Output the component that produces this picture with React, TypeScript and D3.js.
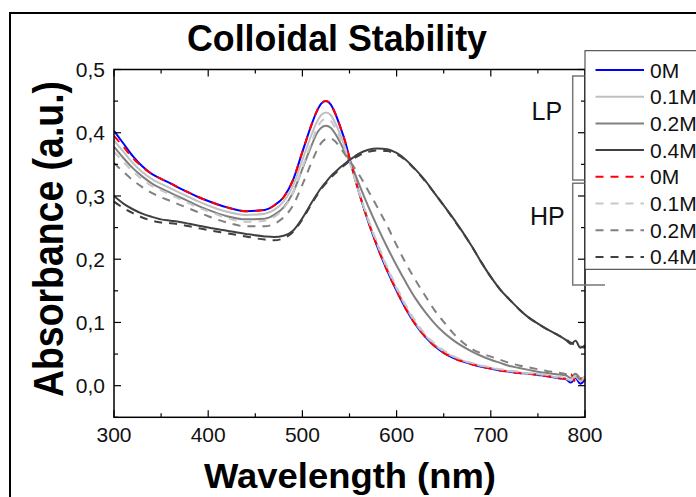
import React from "react";
import * as d3 from "d3";

const wavelengths = [300,310,320,330,340,350,360,370,380,390,400,420,440,460,470,480,490,500,510,515,520,525,530,535,540,545,550,555,560,570,580,590,600,610,620,630,640,650,660,680,690,700,710,720,730,740,750,760,770,780,785,790,795,800];

const lp0M = [0.403,0.383,0.363,0.347,0.335,0.327,0.320,0.312,0.305,0.298,0.292,0.282,0.276,0.278,0.285,0.298,0.325,0.370,0.414,0.433,0.446,0.450,0.445,0.430,0.410,0.388,0.360,0.332,0.306,0.259,0.218,0.182,0.150,0.121,0.097,0.078,0.063,0.052,0.044,0.034,0.030,0.027,0.024,0.022,0.020,0.019,0.017,0.015,0.012,0.010,0.005,0.012,0.003,0.010];
const lp01M = [0.388,0.370,0.352,0.338,0.327,0.319,0.312,0.305,0.298,0.291,0.285,0.275,0.270,0.272,0.278,0.291,0.316,0.357,0.398,0.416,0.428,0.432,0.428,0.415,0.398,0.378,0.356,0.331,0.306,0.261,0.221,0.185,0.153,0.124,0.099,0.080,0.065,0.054,0.046,0.035,0.031,0.028,0.025,0.023,0.021,0.019,0.018,0.016,0.013,0.011,0.008,0.014,0.007,0.012];
const lp02M = [0.378,0.360,0.344,0.331,0.320,0.312,0.305,0.298,0.291,0.284,0.278,0.268,0.263,0.264,0.270,0.282,0.305,0.343,0.381,0.398,0.408,0.411,0.408,0.398,0.385,0.370,0.355,0.338,0.319,0.283,0.250,0.219,0.190,0.163,0.138,0.117,0.099,0.084,0.072,0.054,0.047,0.041,0.036,0.031,0.028,0.025,0.022,0.020,0.018,0.016,0.012,0.017,0.010,0.014];
const lp04M = [0.300,0.288,0.279,0.272,0.267,0.263,0.261,0.259,0.256,0.253,0.250,0.245,0.240,0.236,0.235,0.237,0.245,0.265,0.290,0.302,0.313,0.322,0.331,0.338,0.345,0.351,0.357,0.362,0.367,0.373,0.375,0.374,0.368,0.357,0.342,0.325,0.305,0.285,0.265,0.220,0.195,0.172,0.152,0.136,0.121,0.108,0.098,0.089,0.081,0.072,0.066,0.071,0.060,0.064];
const hp0M = [0.395,0.378,0.360,0.346,0.335,0.327,0.320,0.312,0.305,0.298,0.292,0.282,0.276,0.278,0.285,0.298,0.325,0.370,0.414,0.433,0.446,0.450,0.445,0.430,0.410,0.388,0.360,0.332,0.306,0.259,0.218,0.182,0.150,0.121,0.097,0.078,0.063,0.052,0.044,0.034,0.030,0.027,0.024,0.022,0.020,0.019,0.017,0.015,0.013,0.011,0.018,0.006,0.012,0.008];
const hp01M = [0.370,0.354,0.339,0.326,0.316,0.309,0.302,0.295,0.288,0.281,0.276,0.265,0.259,0.261,0.267,0.280,0.305,0.345,0.386,0.405,0.418,0.422,0.419,0.407,0.392,0.374,0.354,0.330,0.307,0.263,0.224,0.188,0.156,0.127,0.102,0.082,0.067,0.056,0.047,0.036,0.032,0.029,0.026,0.024,0.022,0.020,0.019,0.017,0.015,0.012,0.010,0.016,0.009,0.014];
const hp02M = [0.352,0.338,0.325,0.314,0.305,0.298,0.292,0.286,0.280,0.274,0.268,0.258,0.252,0.252,0.256,0.266,0.285,0.318,0.354,0.371,0.384,0.390,0.391,0.386,0.377,0.366,0.356,0.345,0.334,0.308,0.281,0.253,0.222,0.193,0.167,0.143,0.120,0.101,0.083,0.058,0.051,0.046,0.041,0.036,0.032,0.029,0.026,0.023,0.021,0.018,0.015,0.019,0.013,0.016];
const hp04M = [0.291,0.281,0.273,0.266,0.261,0.258,0.257,0.255,0.252,0.249,0.246,0.241,0.236,0.231,0.230,0.233,0.243,0.263,0.288,0.300,0.311,0.320,0.329,0.336,0.343,0.349,0.355,0.360,0.364,0.370,0.372,0.371,0.366,0.356,0.341,0.324,0.305,0.285,0.264,0.220,0.195,0.172,0.152,0.136,0.121,0.108,0.098,0.089,0.081,0.073,0.068,0.064,0.062,0.060];

const legendLabels = ["0M", "0.1M", "0.2M", "0.4M", "0M", "0.1M", "0.2M", "0.4M"];
const xTicks = [300, 400, 500, 600, 700, 800];
const yTicks = [0, 0.1, 0.2, 0.3, 0.4, 0.5];

const series = [
  { values: lp0M, color: "#0000ff", dash: null },
  { values: lp01M, color: "#c0c0c0", dash: null },
  { values: lp02M, color: "#808080", dash: null },
  { values: lp04M, color: "#404040", dash: null },
  { values: hp0M, color: "#ff0000", dash: "8,7" },
  { values: hp01M, color: "#c8c8c8", dash: "8,7" },
  { values: hp02M, color: "#808080", dash: "8,7" },
  { values: hp04M, color: "#404040", dash: "8,7" },
];

const FONT = "'Liberation Sans', Arial, Helvetica, sans-serif";

export default function App() {
  const W = 696, H = 497;
  const L = 114, R = 585, T = 69.5, B = 417.3;
  const x = d3.scaleLinear().domain([300, 800]).range([L, R]);
  const y = d3.scaleLinear().domain([-0.05, 0.5]).range([B, T]);
  const line = d3.line<number>()
    .x((_, i) => x(wavelengths[i]))
    .y((v) => y(v))
    .curve(d3.curveMonotoneX);

  const xMinor = d3.range(300, 801, 50);
  const yMinor = d3.range(-0.05, 0.501, 0.05);
  const fmt = (v: number) => d3.format(".1f")(v).replace(".", ",").replace("-0,0", "0,0");

  const legX = 585, legY = 50.7, legH = 218.6, rowY0 = 70, rowStep = 26.7;

  return (
    <svg width={W} height={H} style={{ position: "absolute", left: 0, top: 0, background: "#fff" }} fontFamily={FONT}>
      <rect x={0} y={0} width={W} height={H} fill="#fff" />
      <rect x={10} y={13} width={720} height={520} fill="none" stroke="#000" strokeWidth={2} />
      <defs>
        <clipPath id="plotclip">
          <rect x={L} y={T} width={R - L + 2} height={B - T} />
        </clipPath>
      </defs>
      <g clipPath="url(#plotclip)">
        {series.map((s, i) => (
          <path key={i} d={line(s.values) || ""} fill="none" stroke={s.color} strokeWidth={2}
            strokeDasharray={s.dash || undefined} strokeLinejoin="round" />
        ))}
      </g>
      <rect x={L} y={T} width={R - L} height={B - T} fill="none" stroke="#000" strokeWidth={1.5} />
      {xMinor.map((v, i) => {
        const len = i % 2 === 0 ? 7 : 4;
        return (
          <g key={"xt" + i} stroke="#000" strokeWidth={1.2}>
            <line x1={x(v)} x2={x(v)} y1={B} y2={B - len} />
            <line x1={x(v)} x2={x(v)} y1={T} y2={T + len} />
          </g>
        );
      })}
      {yMinor.map((v, i) => {
        const len = i % 2 === 1 ? 7 : 4;
        return (
          <g key={"yt" + i} stroke="#000" strokeWidth={1.2}>
            <line x1={L} x2={L + len} y1={y(v)} y2={y(v)} />
            <line x1={R} x2={R - len} y1={y(v)} y2={y(v)} />
          </g>
        );
      })}
      {xTicks.map((v) => (
        <text key={"xl" + v} x={x(v)} y={442} textAnchor="middle" fontSize={21} fill="#111">{v}</text>
      ))}
      {yTicks.map((v) => (
        <text key={"yl" + v} x={105} y={y(v)} dy="0.36em" textAnchor="end" fontSize={21} fill="#111">{fmt(v)}</text>
      ))}
      <text x={337} y={50.7} textAnchor="middle" fontSize={36} fontWeight="bold" textLength={300} lengthAdjust="spacingAndGlyphs">Colloidal Stability</text>
      <text x={350} y={488} textAnchor="middle" fontSize={35} fontWeight="bold" textLength={292} lengthAdjust="spacingAndGlyphs">Wavelength (nm)</text>
      <text transform="translate(63,239) rotate(-90)" x={0} y={0} textAnchor="middle" fontSize={42} fontWeight="bold" textLength={316} lengthAdjust="spacingAndGlyphs">Absorbance (a.u.)</text>

      <path d="M585,76 H572.7 V180 H585" fill="none" stroke="#777" strokeWidth={1.5} />
      <path d="M585,183.3 H572.7 V285 H605" fill="none" stroke="#777" strokeWidth={1.5} />
      <text x={531.5} y={120} fontSize={25} fill="#111">LP</text>
      <text x={530} y={225} fontSize={25} fill="#111">HP</text>

      <rect x={legX} y={legY} width={130} height={legH} fill="#fff" stroke="#333" strokeWidth={1} />
      {series.map((s, i) => {
        const ry = rowY0 + i * rowStep;
        return (
          <g key={"lg" + i}>
            <line x1={595.5} x2={644} y1={ry} y2={ry} stroke={s.color} strokeWidth={2} strokeDasharray={s.dash || undefined} />
            <text x={650} y={ry} dy="0.36em" fontSize={21} fill="#111">{legendLabels[i]}</text>
          </g>
        );
      })}
    </svg>
  );
}
